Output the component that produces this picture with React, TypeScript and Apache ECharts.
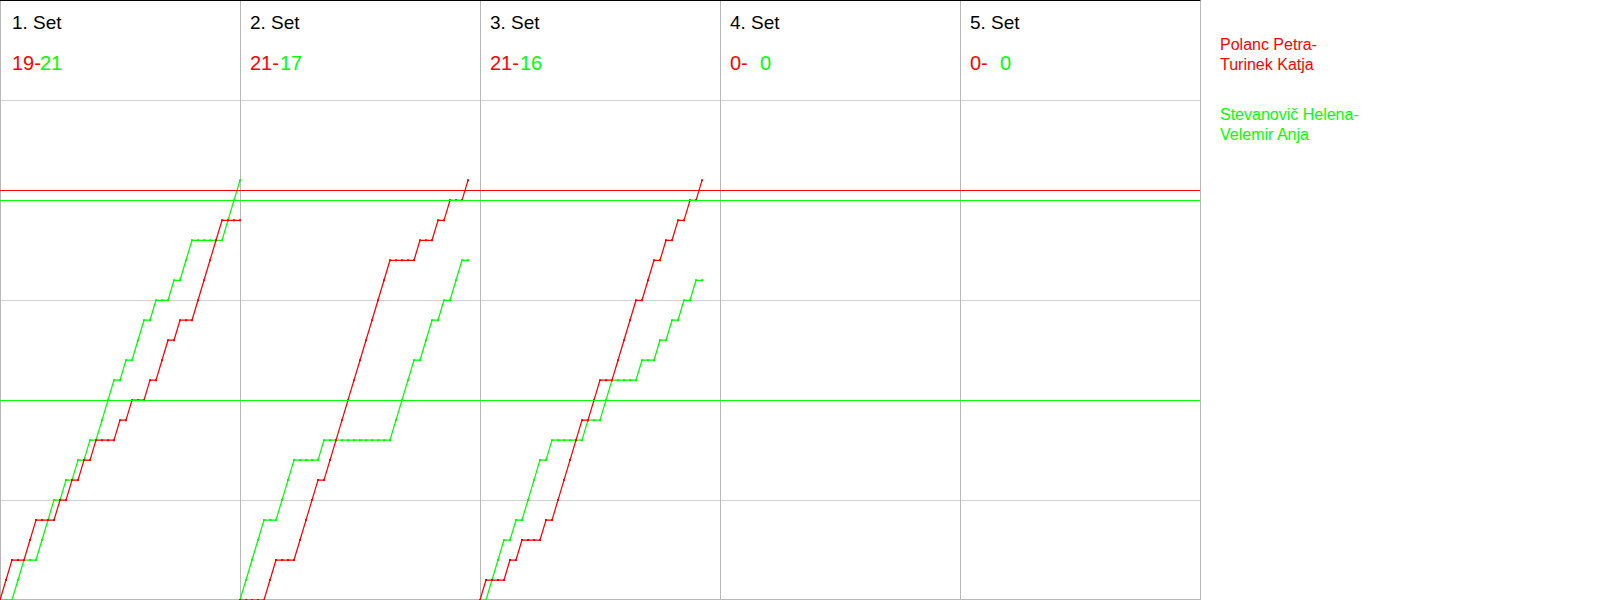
import React, { useEffect, useRef } from "react";
import * as echarts from "echarts";

const SET_TITLES = ["1. Set", "2. Set", "3. Set", "4. Set", "5. Set"];
const RED_FINAL = [19, 21, 21, 0, 0];
const GREEN_FINAL = [21, 17, 16, 0, 0];
const RED_TEAM = "Polanc Petra-\nTurinek Katja";
const GREEN_TEAM = "Stevanovič Helena-\nVelemir Anja";
const RALLY_SLOT = 40; // rally slots per set on the x axis

// Cumulative scores after each rally (index 0 = start of set)
const RED_SET1 = [0, 1, 2, 2, 2, 3, 4, 4, 4, 4, 5, 5, 6, 6, 7, 7, 8, 8, 8, 8, 9, 9, 10, 10, 10, 11, 11, 12, 13, 13, 14, 14, 14, 15, 16, 17, 18, 19, 19, 19, 19];
const GREEN_SET1 = [0, 0, 0, 1, 2, 2, 2, 3, 4, 5, 5, 6, 6, 7, 7, 8, 8, 9, 10, 11, 11, 12, 12, 13, 14, 14, 15, 15, 15, 16, 16, 17, 18, 18, 18, 18, 18, 18, 19, 20, 21];
const RED_SET2 = [0, 0, 0, 0, 0, 1, 2, 2, 2, 2, 3, 4, 5, 6, 6, 7, 8, 9, 10, 11, 12, 13, 14, 15, 16, 17, 17, 17, 17, 17, 18, 18, 18, 19, 19, 20, 20, 20, 21];
const GREEN_SET2 = [0, 1, 2, 3, 4, 4, 4, 5, 6, 7, 7, 7, 7, 7, 8, 8, 8, 8, 8, 8, 8, 8, 8, 8, 8, 8, 9, 10, 11, 12, 12, 13, 14, 14, 15, 15, 16, 17, 17];
const RED_SET3 = [0, 1, 1, 1, 1, 2, 2, 3, 3, 3, 3, 4, 4, 5, 6, 7, 8, 9, 9, 10, 11, 11, 11, 12, 13, 14, 15, 15, 16, 17, 17, 18, 18, 19, 19, 20, 20, 21];
const GREEN_SET3 = [0, 0, 1, 2, 3, 3, 4, 4, 5, 6, 7, 7, 8, 8, 8, 8, 8, 8, 9, 9, 9, 10, 11, 11, 11, 11, 11, 12, 12, 12, 13, 13, 14, 14, 15, 15, 16, 16];

const RED_SETS = [RED_SET1, RED_SET2, RED_SET3];
const GREEN_SETS = [GREEN_SET1, GREEN_SET2, GREEN_SET3];

const RED_MARKS = [20.5];
const GREEN_MARKS = [20, 10];

const RED = "#ff0000";
const GREEN = "#00ff00";
const FONT = "'Liberation Sans', Arial, sans-serif";

export default function App() {
  const ref = useRef<HTMLDivElement>(null);

  useEffect(() => {
    const chart = echarts.init(ref.current!, undefined, { renderer: "svg" });

    const mkSeries = (sets: number[][], name: string, color: string, marks: number[], z: number) =>
      sets.map((arr, i) => ({
        type: "line",
        name,
        data: arr.map((v, j) => [i * RALLY_SLOT + j, v]),
        symbol: "rect",
        symbolSize: 2,
        showAllSymbol: true,
        z,
        lineStyle: { color, width: 1.25 },
        itemStyle: { color },
        silent: true,
        markLine:
          i === 0
            ? {
                silent: true,
                symbol: "none",
                label: { show: false },
                lineStyle: { color, width: 1, type: "solid", opacity: 1 },
                emphasis: { disabled: true },
                data: marks.map((m) => ({ yAxis: m })),
              }
            : undefined,
      }));

    chart.setOption({
      animation: false,
      tooltip: { show: false },
      grid: { left: 0, top: 0.5, width: 1200, height: 600 },
      xAxis: [
        {
          type: "value",
          min: 0,
          max: RALLY_SLOT * SET_TITLES.length,
          interval: RALLY_SLOT,
          offset: -1,
          axisLine: { show: true, lineStyle: { color: "#b8b8b8", width: 1 } },
          axisTick: { show: false },
          axisLabel: { show: false },
          splitLine: { show: true, lineStyle: { color: "#b8b8b8", width: 1 } },
        },
        {
          type: "value",
          position: "top",
          min: 0,
          max: RALLY_SLOT * SET_TITLES.length,
          interval: RALLY_SLOT,
          axisLine: { show: true, lineStyle: { color: "#000000", width: 1 } },
          axisTick: { show: false },
          axisLabel: { show: false },
          splitLine: { show: false },
        },
      ],
      yAxis: {
        type: "value",
        min: 0,
        max: 30,
        interval: 5,
        axisLine: { show: false },
        axisTick: { show: false },
        axisLabel: { show: false },
        splitLine: { show: true, showMinLine: false, showMaxLine: false, lineStyle: { color: "#d3d3d3", width: 1 } },
      },
      series: [
        ...mkSeries(GREEN_SETS, GREEN_TEAM, GREEN, GREEN_MARKS, 2),
        ...mkSeries(RED_SETS, RED_TEAM, RED, RED_MARKS, 3),
      ],
    });

    const graphics: any[] = [];
    SET_TITLES.forEach((t, i) => {
      const px = chart.convertToPixel({ xAxisIndex: 0 }, i * RALLY_SLOT) as number;
      const x0 = Math.max(px, 2) + 10;
      graphics.push({
        type: "text",
        x: x0,
        y: 13,
        silent: true,
        style: { text: t, fill: "#000000", fontSize: 19, fontFamily: FONT, verticalAlign: "top" },
      });
      graphics.push({
        type: "text",
        x: x0,
        y: 53,
        silent: true,
        style: { text: `${RED_FINAL[i]}-`, fill: RED, fontSize: 20, fontFamily: FONT, verticalAlign: "top" },
      });
      graphics.push({
        type: "text",
        x: px + 40,
        y: 53,
        silent: true,
        style: { text: `${GREEN_FINAL[i]}`, fill: GREEN, fontSize: 20, fontFamily: FONT, verticalAlign: "top" },
      });
    });
    const legendX = (chart.convertToPixel({ xAxisIndex: 0 }, RALLY_SLOT * SET_TITLES.length) as number) + 20;
    graphics.push({
      type: "text",
      x: legendX,
      y: 34,
      silent: true,
      style: { text: RED_TEAM, fill: RED, fontSize: 16, lineHeight: 20, fontFamily: FONT, verticalAlign: "top" },
    });
    graphics.push({
      type: "text",
      x: legendX,
      y: 104,
      silent: true,
      style: { text: GREEN_TEAM, fill: GREEN, fontSize: 16, lineHeight: 20, fontFamily: FONT, verticalAlign: "top" },
    });
    chart.setOption({ graphic: graphics });

    return () => chart.dispose();
  }, []);

  return (
    <div
      ref={ref}
      style={{ position: "absolute", left: 0, top: 0, width: 1600, height: 600, background: "#ffffff" }}
    />
  );
}
